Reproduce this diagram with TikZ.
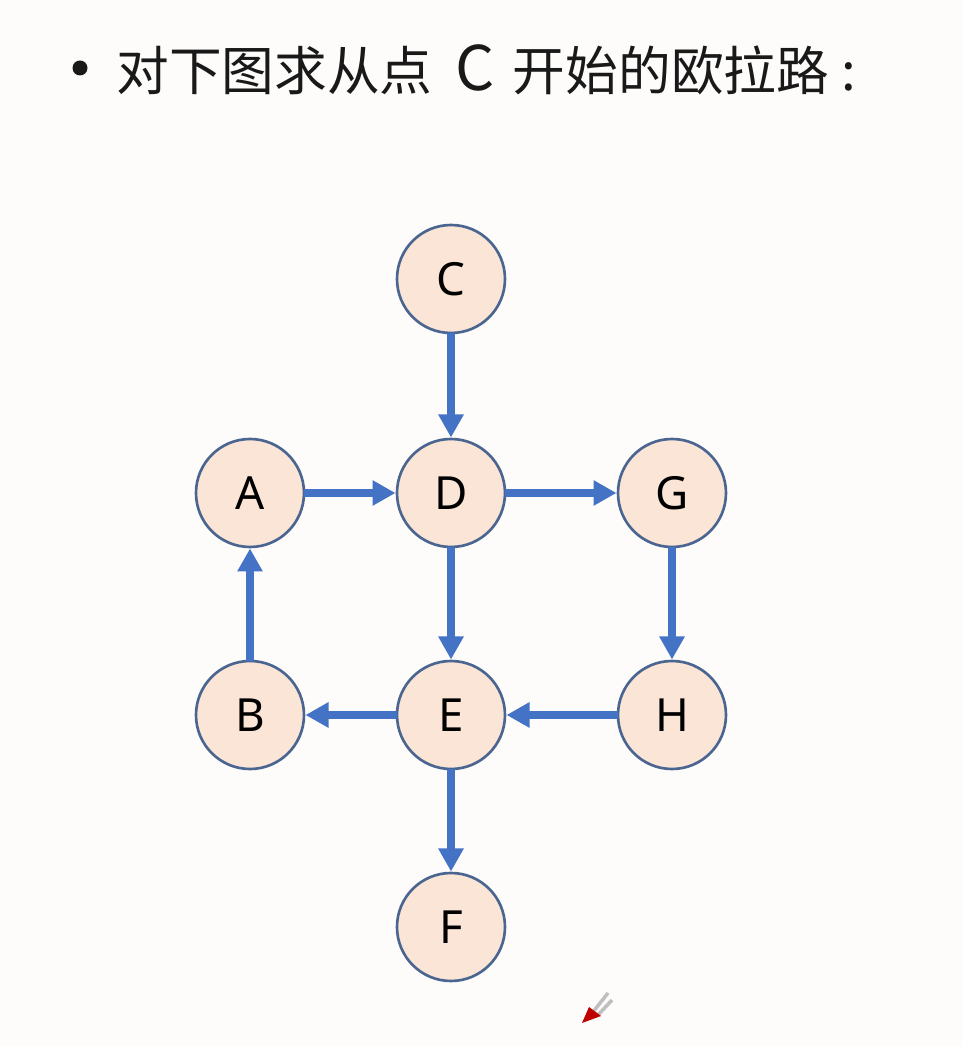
\documentclass[tikz,border=0pt]{standalone}
\usepackage{fontspec}
\setmainfont{Noto Sans}
\newfontfamily\cjkfont{Noto Sans CJK SC}
\usetikzlibrary{arrows.meta}
\definecolor{nodefill}{HTML}{FBE5D6}
\definecolor{nodeline}{HTML}{4A6590}
\definecolor{edgeblue}{HTML}{4472C4}
\definecolor{paper}{HTML}{FDFCFB}
\tikzset{
	vertex/.style={circle, draw=nodeline, fill=nodefill, line width=1.5pt, minimum size=2.16cm, inner sep=0pt, outer sep=0pt, font=\fontsize{26}{30}\selectfont},
	edge/.style={draw=edgeblue, line width=4.1pt, -{Triangle[length=0.46cm, width=0.48cm]}, shorten >=0.03cm}
}
\begin{document}
\begin{tikzpicture}
	\useasboundingbox (0,0) rectangle (19.24,20.92);
	\fill[paper] (0,0) rectangle (19.24,20.92);

	% Titulo
	\fill[black!90] (1.6,19.56) circle (0.15);
	\node[anchor=west, inner sep=0pt, text=black!90, font=\fontsize{30}{36}\selectfont] (titulo) at (2.32,19.52) {\cjkfont 对下图求从点\hspace{0.46cm}{\fontsize{35}{36}\selectfont C}\hspace{0.36cm}开始的欧拉路\hspace{0.24cm}:};

	% Vertices
	\node[vertex] (C) at (9.02,15.34) {C};
	\node[vertex] (A) at (5.00,11.06) {A};
	\node[vertex] (D) at (9.02,11.06) {D};
	\node[vertex] (G) at (13.44,11.06) {G};
	\node[vertex] (B) at (5.00,6.62) {B};
	\node[vertex] (E) at (9.02,6.62) {E};
	\node[vertex] (H) at (13.44,6.62) {H};
	\node[vertex] (F) at (9.02,2.38) {F};

	% Aristas
	\draw[edge] (C) -- (D);
	\draw[edge] (A) -- (D);
	\draw[edge] (D) -- (G);
	\draw[edge] (D) -- (E);
	\draw[edge] (G) -- (H);
	\draw[edge] (H) -- (E);
	\draw[edge] (E) -- (B);
	\draw[edge] (B) -- (A);
	\draw[edge] (E) -- (F);

	% Puntero
	\draw[gray!50, line width=2pt] (11.86,0.68) -- (12.16,1.06);
	\draw[gray!50, line width=2pt] (11.96,0.62) -- (12.24,0.92);
	\fill[red!75!black] (11.64,0.46) -- (11.78,0.78) -- (12.02,0.6) -- cycle;
\end{tikzpicture}
\end{document}
